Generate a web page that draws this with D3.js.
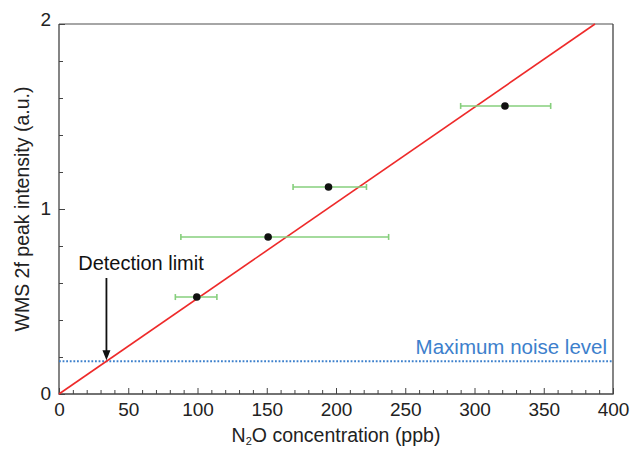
<!DOCTYPE html>
<html>
<head>
<meta charset="utf-8">
<script src="https://cdn.jsdelivr.net/npm/d3@7"></script>
<style>
  body { margin: 0; background: #fff; }
  text { font-family: "Liberation Sans", Arial, sans-serif; }
</style>
</head>
<body>
<div class="canvas"></div>
<script>
// measured points: concentration (ppb), intensity, error bar range
const concentrations = [99.5, 151, 194.6, 322]
const intensities = [0.524, 0.849, 1.119, 1.557]
const errLow = [84, 88, 169, 290]
const errHigh = [114, 238, 222, 355]

const fitSlope = 2 / 387
const noiseLevel = 0.177
const detectionLimit = noiseLevel / fitSlope

const xTicks = [0, 50, 100, 150, 200, 250, 300, 350, 400]
const yTicks = [0, 1, 2]

const width = 630
const height = 450
const margin = {top: 24, right: 17, bottom: 56, left: 59}

const svg = d3.select('.canvas')
  .append('svg')
  .attr('width', width)
  .attr('height', height)

const x = d3.scaleLinear().domain([0, 400]).range([margin.left, width - margin.right])
const y = d3.scaleLinear().domain([0, 2]).range([height - margin.bottom, margin.top])

// frame: top lighter, others dark
svg.append('line')
  .attr('x1', x(0)).attr('x2', x(400)).attr('y1', y(2)).attr('y2', y(2))
  .attr('stroke', '#888').attr('stroke-width', 1.3)
svg.append('path')
  .attr('d', `M${x(0)},${y(2)} V${y(0)} H${x(400)} V${y(2)}`)
  .attr('fill', 'none').attr('stroke', '#444').attr('stroke-width', 1.3)

// x axis, inward ticks
const xAxis = svg.append('g').attr('transform', `translate(0,${y(0)})`)
xAxis.call(d3.axisBottom(x).tickValues(d3.range(0, 401, 10)).tickSize(0).tickFormat(''))
xAxis.select('.domain').remove()
xAxis.selectAll('.tick line')
  .attr('y2', d => d % 50 === 0 ? -6 : -4)
  .attr('stroke', '#444')
xAxis.selectAll('.tick')
  .filter(d => xTicks.includes(d))
  .append('text')
  .attr('y', 22).attr('fill', '#222').attr('font-size', 19)
  .attr('text-anchor', 'middle')
  .text(d => d)

// y axis, inward ticks
const yAxis = svg.append('g').attr('transform', `translate(${x(0)},0)`)
yAxis.call(d3.axisLeft(y).tickValues(d3.range(0, 2.01, 0.2).map(v => +v.toFixed(1))).tickSize(0).tickFormat(''))
yAxis.select('.domain').remove()
yAxis.selectAll('.tick line')
  .attr('x2', d => yTicks.includes(d) ? 6 : 4)
  .attr('stroke', '#444')
yAxis.selectAll('.tick')
  .filter(d => yTicks.includes(d))
  .append('text')
  .attr('x', -8).attr('dy', d => d === 2 ? '0.1em' : '0.3em').attr('fill', '#222').attr('font-size', 19)
  .attr('text-anchor', 'end')
  .text(d => d)

// axis titles
const xTitle = svg.append('text')
  .attr('x', (x(0) + x(400)) / 2).attr('y', 442)
  .attr('text-anchor', 'middle').attr('font-size', 19.5).attr('fill', '#222')
xTitle.append('tspan').text('N')
xTitle.append('tspan').text('2').attr('font-size', 11).attr('dy', 3)
xTitle.append('tspan').text('O concentration (ppb)').attr('dy', -3)

svg.append('text')
  .attr('transform', `translate(29,${(y(0) + y(2)) / 2}) rotate(-90)`)
  .attr('text-anchor', 'middle').attr('font-size', 19.5).attr('fill', '#222')
  .text('WMS 2f peak intensity (a.u.)')

// noise level
svg.append('line')
  .attr('x1', x(0)).attr('x2', x(400))
  .attr('y1', y(noiseLevel)).attr('y2', y(noiseLevel))
  .attr('stroke', '#3d80cc').attr('stroke-width', 2).attr('stroke-dasharray', '1.8,1.8')

svg.append('text')
  .attr('x', x(400) - 6).attr('y', y(noiseLevel) - 7)
  .attr('text-anchor', 'end').attr('font-size', 20.5).attr('fill', '#3d80cc')
  .text('Maximum noise level')

// fit line
const line = d3.line().x(d => x(d)).y(d => y(d * fitSlope))
svg.append('path')
  .attr('d', line([0, 2 / fitSlope]))
  .attr('fill', 'none').attr('stroke', '#ee2a2a').attr('stroke-width', 1.6)

// error bars
const points = concentrations.map((c, i) => ({c, v: intensities[i], lo: errLow[i], hi: errHigh[i]}))
const bars = svg.append('g').attr('stroke', '#86cf7c').attr('stroke-width', 1.6)
bars.selectAll('.bar').data(points).enter().append('line')
  .attr('x1', d => x(d.lo)).attr('x2', d => x(d.hi))
  .attr('y1', d => y(d.v)).attr('y2', d => y(d.v))
bars.selectAll('.capL').data(points).enter().append('line')
  .attr('x1', d => x(d.lo)).attr('x2', d => x(d.lo))
  .attr('y1', d => y(d.v) - 3).attr('y2', d => y(d.v) + 3)
bars.selectAll('.capR').data(points).enter().append('line')
  .attr('x1', d => x(d.hi)).attr('x2', d => x(d.hi))
  .attr('y1', d => y(d.v) - 3).attr('y2', d => y(d.v) + 3)

svg.selectAll('.dot').data(points).enter().append('circle')
  .attr('cx', d => x(d.c)).attr('cy', d => y(d.v)).attr('r', 3.8)
  .attr('fill', '#111')

// detection limit arrow
const ax = x(detectionLimit)
svg.append('line')
  .attr('x1', ax).attr('x2', ax)
  .attr('y1', 278).attr('y2', y(noiseLevel) - 9)
  .attr('stroke', '#111').attr('stroke-width', 1.8)
svg.append('path')
  .attr('d', `M${ax - 4},${y(noiseLevel) - 11} L${ax + 4},${y(noiseLevel) - 11} L${ax},${y(noiseLevel) - 1} Z`)
  .attr('fill', '#111')
svg.append('text')
  .attr('x', 141).attr('y', 270)
  .attr('text-anchor', 'middle').attr('font-size', 20).attr('fill', '#111')
  .text('Detection limit')
</script>
</body>
</html>
